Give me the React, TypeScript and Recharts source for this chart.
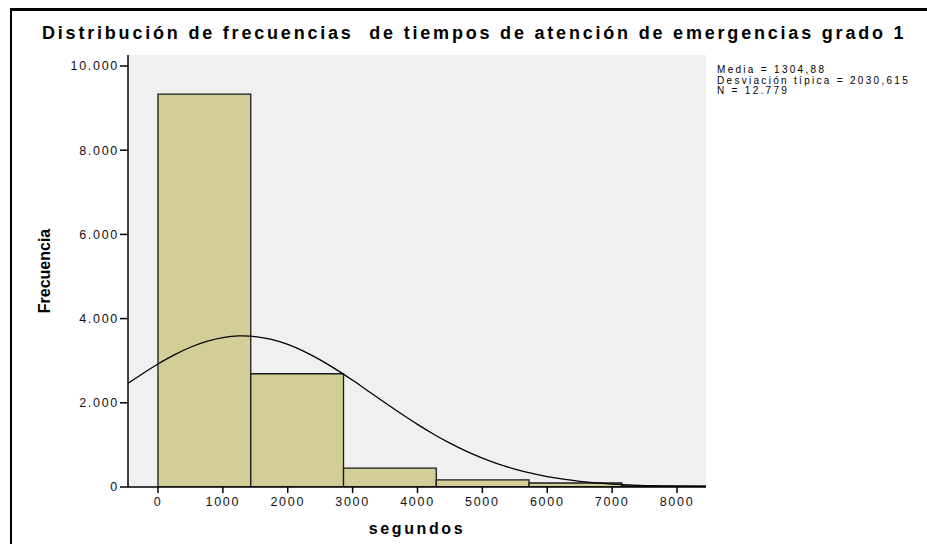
import React from 'react'
import {
  ComposedChart, Line, XAxis, YAxis, CartesianGrid, ReferenceArea,
} from 'recharts'

// histogram bins (segundos) and frequencies
const binStarts = [0, 1430, 2860, 4290, 5720, 7150]
const binEnds   = [1430, 2860, 4290, 5720, 7150, 8580]
const binCounts = [9330, 2690, 450, 170, 95, 25]

// normal curve
const curveX = [-462, -250, 0, 250, 500, 750, 1000, 1250, 1305, 1500, 1750, 2000, 2250, 2500, 2750, 3000, 3250, 3500, 3750, 4000, 4250, 4500, 4750, 5000, 5250, 5500, 5750, 6000, 6250, 6500, 6750, 7000, 7250, 7500, 7750, 8000, 8250, 8447]
const curveY = [2461, 2678, 2920, 3137, 3319, 3459, 3550, 3589, 3590, 3573, 3505, 3386, 3222, 3019, 2787, 2534, 2269, 2001, 1739, 1488, 1254, 1041, 851, 686, 544, 425, 327, 248, 185, 136, 98, 70, 49, 34, 23, 16, 10, 7]

const xTicks = [0, 1000, 2000, 3000, 4000, 5000, 6000, 7000, 8000]
const yTicks = [0, 2000, 4000, 6000, 8000, 10000]
const xDomain = [-462, 8447]
const yDomain = [0, 10261]

const statsLines = ['Media = 1304,88', 'Desviación típica = 2030,615', 'N = 12.779']

const curve = curveX.map((x, i) => ({ x, y: curveY[i] }))
const bins = binStarts.map((s, i) => ({ s, e: binEnds[i], n: binCounts[i] }))

const fmtThousands = (v: number) => String(v).replace(/\B(?=(\d{3})+(?!\d))/g, '.')

const tickStyle = { fontSize: 12.5, fill: '#111', letterSpacing: 1.7 }

export default function App() {
  return (
    <div style={{ position: 'absolute', left: 0, top: 0, width: 927, height: 544, background: '#fff', fontFamily: '"Liberation Sans", Arial, sans-serif', overflow: 'hidden' }}>
      {/* outer frame, only top and left show */}
      <div style={{ position: 'absolute', left: 10, top: 8, width: 930, height: 560, borderTop: '3px solid #000', borderLeft: '2px solid #000' }} />

      <div style={{ position: 'absolute', left: 42, top: 23, fontWeight: 'bold', fontSize: 18, letterSpacing: 2.8, color: '#000', whiteSpace: 'pre' }}>
        Distribución de frecuencias  de tiempos de atención de emergencias grado 1
      </div>

      <div style={{ position: 'absolute', left: 717, top: 65, fontSize: 10, lineHeight: '10.5px', letterSpacing: 2.3, color: '#000' }}>
        {statsLines.map(l => <div key={l}>{l}</div>)}
      </div>

      <div style={{ position: 'absolute', left: 0, top: 0 }}>
        <ComposedChart width={927} height={544} data={curve} margin={{ top: 55, right: 221, bottom: 27, left: 0 }}>
          <CartesianGrid fill="#F0F0F0" horizontal={false} vertical={false} />
          <XAxis dataKey="x" type="number" domain={xDomain} allowDataOverflow ticks={xTicks}
            height={30} tick={tickStyle} tickSize={6} tickMargin={4}
            axisLine={{ stroke: '#000', strokeWidth: 1.5 }} tickLine={{ stroke: '#000', strokeWidth: 1.5 }}
            label={{ value: 'segundos', position: 'insideBottom', offset: -17, style: { fontSize: 16, fontWeight: 'bold', fill: '#000', letterSpacing: 2.6 } }} />
          <XAxis xAxisId="top" orientation="top" type="number" domain={xDomain} allowDataOverflow height={0}
            tick={false} tickLine={false} axisLine={{ stroke: '#222' }} />
          <YAxis type="number" domain={yDomain} allowDataOverflow ticks={yTicks} width={128}
            tick={tickStyle} tickSize={8} tickMargin={1} tickFormatter={fmtThousands}
            axisLine={{ stroke: '#000', strokeWidth: 1.5 }} tickLine={{ stroke: '#000', strokeWidth: 1.5 }}
            label={{ value: 'Frecuencia', angle: -90, position: 'insideLeft', offset: 44, style: { fontSize: 16, fontWeight: 'bold', fill: '#000', textAnchor: 'middle' } }} />
          <YAxis yAxisId="right" orientation="right" type="number" domain={yDomain} width={0}
            tick={false} tickLine={false} axisLine={{ stroke: '#222' }} />
          {bins.map(b => (
            <ReferenceArea key={b.s} x1={b.s} x2={b.e} y1={0} y2={b.n} ifOverflow="hidden"
              fill="#D2CE97" fillOpacity={1} stroke="#1a1a1a" strokeWidth={1.3} />
          ))}
          <Line type="monotone" dataKey="y" stroke="#000" strokeWidth={1.3} dot={false} isAnimationActive={false} />
        </ComposedChart>
      </div>
    </div>
  )
}
